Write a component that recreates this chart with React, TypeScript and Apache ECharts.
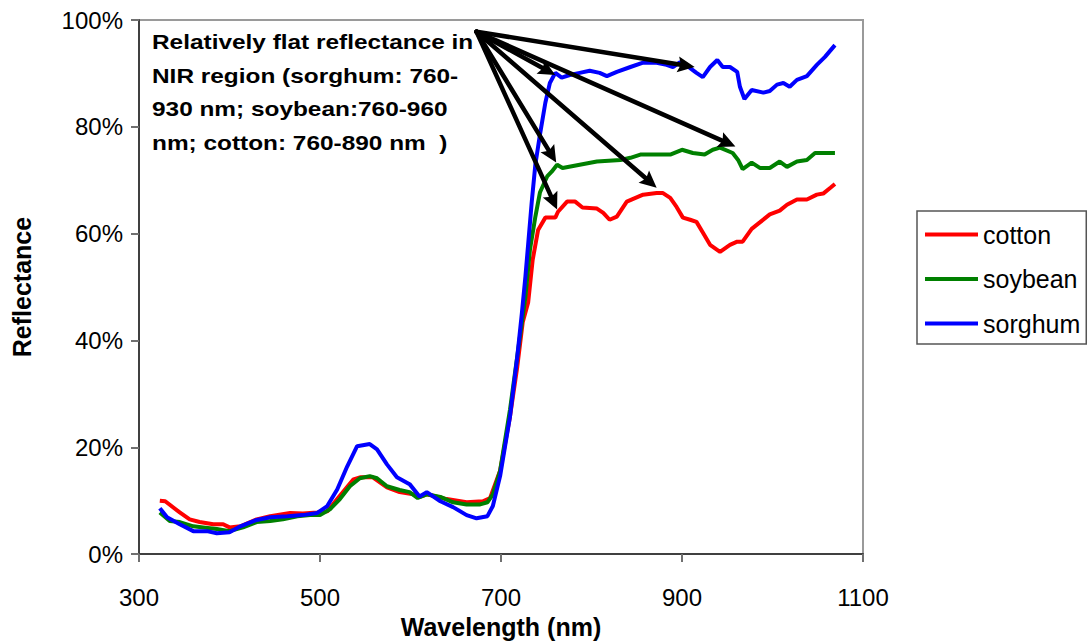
import React, { useEffect, useRef } from "react";
import * as echarts from "echarts";

const seriesNames = ["cotton", "soybean", "sorghum"];
const seriesColors = ["#FF0000", "#008000", "#0000FF"];

const cottonWl = [323, 329, 345, 356, 367, 382, 393, 400, 412, 430, 445, 467, 481, 497, 508, 519, 537, 545, 558, 574, 588, 603, 610, 618, 640, 662, 680, 688, 699, 710, 718, 724, 730, 735, 741, 749, 760, 763, 773, 782, 790, 806, 813, 820, 828, 839, 857, 872, 879, 887, 894, 901, 909, 916, 923, 931, 942, 953, 961, 967, 977, 986, 997, 1008, 1016, 1027, 1038, 1049, 1056, 1064, 1069];
const cottonPct = [10.0, 9.9, 7.8, 6.5, 6.0, 5.6, 5.6, 5.0, 5.2, 6.5, 7.1, 7.7, 7.6, 7.8, 8.0, 10.3, 14.0, 14.4, 14.4, 12.5, 11.6, 11.2, 10.7, 11.2, 10.3, 9.7, 9.9, 10.5, 15.6, 25.8, 35.1, 43.4, 47.1, 55.1, 60.7, 63.0, 63.0, 64.1, 66.0, 66.0, 64.9, 64.7, 63.9, 62.6, 63.2, 66.0, 67.3, 67.6, 67.6, 66.7, 65.0, 63.0, 62.6, 62.2, 60.2, 57.9, 56.6, 57.9, 58.5, 58.5, 60.9, 62.1, 63.6, 64.3, 65.4, 66.4, 66.4, 67.3, 67.5, 68.6, 69.3];

const soybeanWl = [323, 334, 345, 360, 371, 386, 400, 415, 430, 445, 459, 475, 489, 500, 511, 522, 533, 544, 555, 563, 574, 588, 599, 608, 618, 633, 647, 662, 677, 685, 691, 699, 710, 719, 727, 732, 738, 743, 751, 756, 762, 768, 787, 806, 832, 843, 854, 887, 900, 912, 925, 934, 942, 956, 962, 967, 977, 986, 997, 1008, 1016, 1027, 1038, 1047, 1069];
const soybeanPct = [7.8, 6.2, 6.0, 5.2, 5.0, 4.7, 4.3, 5.0, 6.0, 6.2, 6.5, 7.1, 7.3, 7.3, 8.4, 10.3, 12.7, 14.2, 14.6, 14.2, 12.7, 12.0, 11.6, 10.5, 11.2, 10.7, 9.7, 9.3, 9.3, 9.7, 11.2, 15.6, 27.1, 38.3, 48.2, 57.0, 63.2, 67.7, 70.7, 71.6, 72.9, 72.3, 72.9, 73.5, 73.8, 74.2, 74.8, 74.8, 75.7, 75.1, 74.8, 75.7, 76.1, 75.1, 73.8, 72.1, 73.3, 72.3, 72.3, 73.5, 72.5, 73.5, 73.8, 75.1, 75.1];

const sorghumWl = [323, 331, 345, 360, 375, 386, 400, 412, 430, 445, 464, 481, 497, 508, 519, 530, 541, 555, 563, 574, 585, 599, 610, 618, 633, 647, 662, 673, 685, 691, 699, 710, 718, 723, 727, 730, 734, 738, 743, 749, 754, 760, 767, 776, 787, 798, 809, 817, 828, 843, 857, 872, 883, 890, 898, 909, 916, 923, 931, 939, 945, 953, 961, 964, 969, 977, 990, 997, 1005, 1012, 1019, 1027, 1038, 1049, 1058, 1069];
const sorghumPct = [8.6, 6.9, 5.6, 4.3, 4.3, 3.9, 4.1, 5.2, 6.4, 6.9, 7.1, 7.3, 7.7, 9.0, 12.1, 16.4, 20.2, 20.6, 19.6, 16.8, 14.4, 13.1, 10.8, 11.6, 9.9, 8.8, 7.3, 6.7, 7.1, 9.0, 14.6, 25.8, 37.0, 45.0, 52.0, 58.0, 66.0, 73.0, 78.5, 84.5, 88.2, 90.1, 89.2, 89.7, 90.1, 90.5, 90.1, 89.5, 90.3, 91.2, 92.0, 92.0, 91.6, 91.2, 92.1, 91.0, 90.1, 89.3, 91.2, 92.5, 91.2, 91.2, 90.3, 87.5, 85.2, 86.9, 86.4, 86.7, 87.9, 88.2, 87.5, 88.8, 89.5, 91.6, 93.1, 95.3];

// annotation: arrows from a common origin to the flat NIR regions (data coordinates)
const arrowOrigin = [673, 97.8];
const arrowTips = [
  [914, 91.2],
  [760, 89.7],
  [959, 76.3],
  [761, 73.3],
  [872, 68.6],
  [762, 64.5],
];
const noteLines = [
  "Relatively flat reflectance in",
  "NIR region (sorghum: 760-",
  "930 nm; soybean:760-960",
  "nm; cotton: 760-890 nm  )",
];

const FONT = "'Liberation Sans', Arial, Helvetica, sans-serif";

export default function App() {
  const ref = useRef<HTMLDivElement>(null);
  useEffect(() => {
    const chart = echarts.init(ref.current!, null, { renderer: "svg" });
    const zip = (a: number[], b: number[]) => a.map((x, i) => [x, b[i]]);
    const wls = [cottonWl, soybeanWl, sorghumWl];
    const pcts = [cottonPct, soybeanPct, sorghumPct];
    chart.setOption({
      animation: false,
      backgroundColor: "#ffffff",
      grid: {
        left: 139,
        right: 227,
        top: 20,
        bottom: 89,
        show: true,
        borderColor: "#9a9a9a",
        borderWidth: 2,
      },
      xAxis: {
        type: "value",
        min: 300,
        max: 1100,
        interval: 200,
        axisLine: { lineStyle: { color: "#404040", width: 2 } },
        axisTick: { show: true, length: 8, lineStyle: { color: "#707070", width: 2 } },
        splitLine: { show: false },
        axisLabel: {
          fontSize: 24,
          color: "#000",
          margin: 31,
          fontFamily: FONT,
          formatter: (v: number) => String(v),
        },
        name: "Wavelength (nm)",
        nameLocation: "middle",
        nameGap: 56,
        nameTextStyle: { fontSize: 25, fontWeight: "bold", color: "#000", fontFamily: FONT },
      },
      yAxis: {
        type: "value",
        min: 0,
        max: 100,
        interval: 20,
        axisLine: { show: true, lineStyle: { color: "#404040", width: 2 } },
        axisTick: { show: true, length: 8, lineStyle: { color: "#707070", width: 2 } },
        splitLine: { show: false },
        axisLabel: { fontSize: 24, color: "#000", margin: 16, fontFamily: FONT, formatter: "{value}%" },
        name: "Reflectance",
        nameLocation: "middle",
        nameRotate: 90,
        nameGap: 105,
        nameTextStyle: { fontSize: 25, fontWeight: "bold", color: "#000", fontFamily: FONT },
      },
      legend: {
        orient: "vertical",
        left: 917,
        top: 211,
        padding: [11, 6, 8, 8],
        itemWidth: 53,
        itemHeight: 4,
        itemGap: 19.5,
        icon: "rect",
        borderColor: "#555",
        borderWidth: 1.5,
        textStyle: { fontSize: 25, lineHeight: 25, color: "#000", fontFamily: FONT },
        data: seriesNames,
      },
      series: seriesNames.map((name, i) => ({
        name,
        type: "line",
        showSymbol: false,
        symbol: "none",
        data: zip(wls[i], pcts[i]),
        lineStyle: { width: 4, color: seriesColors[i] },
        itemStyle: { color: seriesColors[i] },
        z: 2 + i,
      })),
    });

    const o = chart.convertToPixel({ gridIndex: 0 }, arrowOrigin) as number[];
    const L = 17;
    const W = 8;
    const graphics: any[] = [];
    arrowTips.forEach((tip) => {
      const t = chart.convertToPixel({ gridIndex: 0 }, tip) as number[];
      const dx = t[0] - o[0];
      const dy = t[1] - o[1];
      const len = Math.sqrt(dx * dx + dy * dy);
      const ux = dx / len;
      const uy = dy / len;
      const nx = -uy;
      const ny = ux;
      const bx = t[0] - ux * L;
      const by = t[1] - uy * L;
      graphics.push({
        type: "line",
        z: 100,
        shape: { x1: o[0], y1: o[1], x2: bx + ux * 3, y2: by + uy * 3 },
        style: { stroke: "#000", lineWidth: 4.5, lineCap: "round" },
      });
      graphics.push({
        type: "polygon",
        z: 100,
        shape: {
          points: [
            [t[0], t[1]],
            [bx + nx * W, by + ny * W],
            [bx + ux * 3, by + uy * 3],
            [bx - nx * W, by - ny * W],
          ],
        },
        style: { fill: "#000" },
      });
    });
    graphics.push({
      type: "text",
      z: 100,
      x: 152,
      y: 26,
      scaleX: 1.22,
      style: {
        text: noteLines.join("\n"),
        font: `bold 20px ${FONT}`,
        lineHeight: 33.5,
        fill: "#000",
        verticalAlign: "top",
      },
    });
    chart.setOption({ graphic: graphics });

    return () => chart.dispose();
  }, []);
  return (
    <div
      ref={ref}
      style={{ position: "fixed", left: 0, top: 0, width: 1090, height: 644, background: "#fff" }}
    />
  );
}
